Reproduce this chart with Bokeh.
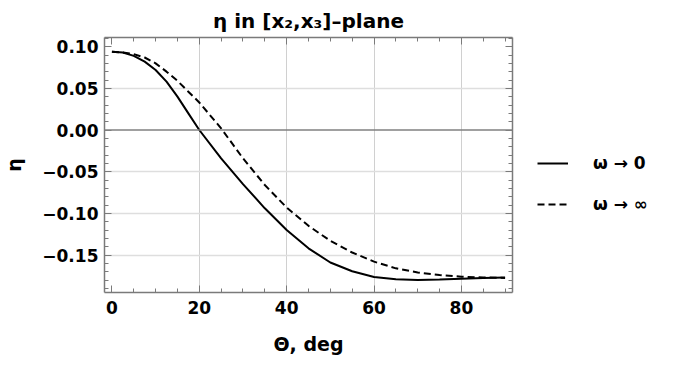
from bokeh.plotting import figure
from bokeh.layouts import row
from bokeh.models import (Range1d, LinearAxis, FixedTicker, Legend, LegendItem, Span, Grid,
                          CustomJSTickFormatter)
from bokeh.embed import file_html
from bokeh.resources import INLINE
import numpy as np

# ---- data ----
theta = [0, 2.5, 5, 7.5, 10, 12.5, 15, 17.5, 20, 25, 30, 35, 40, 45, 50, 55, 60, 65, 70, 75, 80, 85, 90]
eta_omega0 = [0.094, 0.093, 0.089, 0.082, 0.072, 0.058, 0.040, 0.020, 0.000, -0.034, -0.065,
              -0.094, -0.120, -0.142, -0.159, -0.1695, -0.1765, -0.179, -0.180, -0.1795, -0.1785,
              -0.1775, -0.177]
eta_omegainf = [0.094, 0.093, 0.091, 0.087, 0.080, 0.070, 0.059, 0.046, 0.033, 0.002, -0.034,
                -0.066, -0.093, -0.115, -0.133, -0.147, -0.158, -0.166, -0.171, -0.174, -0.176,
                -0.177, -0.1775]
series_labels = ["ω → 0", "ω → ∞"]

x_ticks = [0, 20, 40, 60, 80]
x_tick_labels = ["0", "20", "40", "60", "80"]
y_ticks = [-0.15, -0.10, -0.05, 0.00, 0.05, 0.10]
y_tick_labels = ["\u22120.15", "\u22120.10", "\u22120.05", "0.00", "0.05", "0.10"]
x_grid = [20, 40, 60, 80]
y_grid = [-0.15, -0.10, -0.05, 0.05]

title_text = "η in [x₂,x₃]–plane"
x_label = "Θ, deg"
y_label = "η"

FONT = "DejaVu Sans"
FRAME = "#7a7a7a"
FW, FH = 408, 255
H = 350

p = figure(frame_width=FW, frame_height=FH, output_backend="svg", toolbar_location=None,
           x_range=Range1d(-1.7, 91.7), y_range=Range1d(-0.195, 0.111),
           min_border_left=94, min_border_right=10, min_border_top=37, min_border_bottom=56,
           x_axis_type=None, y_axis_type=None)
p.outline_line_color = None
p.background_fill_color = "white"

p.title.text = title_text
p.title.align = "center"
p.title.text_font = FONT
p.title.text_font_size = "20px"
p.title.text_font_style = "bold"
p.title.text_color = "black"
p.title.standoff = 10

x_minor = list(np.arange(0, 91, 5))
y_minor = list(np.round(np.arange(-0.19, 0.111, 0.01), 3))
xt = FixedTicker(ticks=x_ticks, minor_ticks=x_minor)
yt = FixedTicker(ticks=y_ticks, minor_ticks=y_minor)
blank = CustomJSTickFormatter(code="return ''")


def style(ax):
    ax.axis_line_color = FRAME
    ax.axis_line_width = 1.5
    ax.major_tick_line_color = FRAME
    ax.minor_tick_line_color = FRAME
    ax.major_tick_in = 7
    ax.major_tick_out = 0
    ax.minor_tick_in = 4
    ax.minor_tick_out = 0
    ax.major_label_text_font = FONT
    ax.major_label_text_font_style = "bold"
    ax.major_label_text_font_size = "17px"
    ax.major_label_text_color = "black"
    ax.axis_label_text_font = FONT
    ax.axis_label_text_font_style = "bold"
    ax.axis_label_text_font_size = "19px"
    ax.axis_label_text_color = "black"


xb = LinearAxis(ticker=xt, axis_label=x_label,
                major_label_overrides=dict(zip(x_ticks, x_tick_labels)))
style(xb)
xb.major_label_standoff = 8
xb.axis_label_standoff = 16
p.add_layout(xb, "below")

xa = LinearAxis(ticker=xt, formatter=blank, major_label_standoff=0)
style(xa)
xa.major_label_text_font_size = "2px"
p.add_layout(xa, "above")

yl = LinearAxis(ticker=yt, axis_label=y_label,
                major_label_overrides=dict(zip(y_ticks, y_tick_labels)))
style(yl)
yl.major_label_standoff = 6
yl.axis_label_standoff = 14
p.add_layout(yl, "left")

yr = LinearAxis(ticker=yt, formatter=blank, major_label_standoff=0)
style(yr)
yr.major_label_text_font_size = "2px"
p.add_layout(yr, "right")

p.add_layout(Grid(dimension=0, ticker=FixedTicker(ticks=x_grid), grid_line_color="#d0d0d0", grid_line_width=1))
p.add_layout(Grid(dimension=1, ticker=FixedTicker(ticks=y_grid), grid_line_color="#dedede", grid_line_width=1.5))
p.add_layout(Span(location=0, dimension="width", line_color="#808080", line_width=1.5))

p.line(theta, eta_omega0, line_color="black", line_width=2)
p.line(theta, eta_omegainf, line_color="black", line_width=2, line_dash="7 4")

# legend panel on the right
q = figure(width=148, height=H, output_backend="svg", toolbar_location=None,
           x_axis_type=None, y_axis_type=None, min_border=0)
q.outline_line_color = None
q.xgrid.visible = False
q.ygrid.visible = False
l1 = q.line(theta, eta_omega0, line_color="black", line_width=2, visible=False)
l2 = q.line(theta, eta_omegainf, line_color="black", line_width=2, line_dash="7 4", visible=False)

legend = Legend(items=[LegendItem(label=series_labels[0], renderers=[l1]),
                       LegendItem(label=series_labels[1], renderers=[l2])],
                location=(15, 71), orientation="vertical",
                glyph_width=31, glyph_height=20, label_height=20, label_standoff=25,
                spacing=21, padding=0, margin=0,
                border_line_color=None, background_fill_alpha=0,
                label_text_font=FONT, label_text_font_style="bold",
                label_text_font_size="17px", label_text_color="black")
q.add_layout(legend)

open("out.html", "w").write(file_html(row(p, q), INLINE))
